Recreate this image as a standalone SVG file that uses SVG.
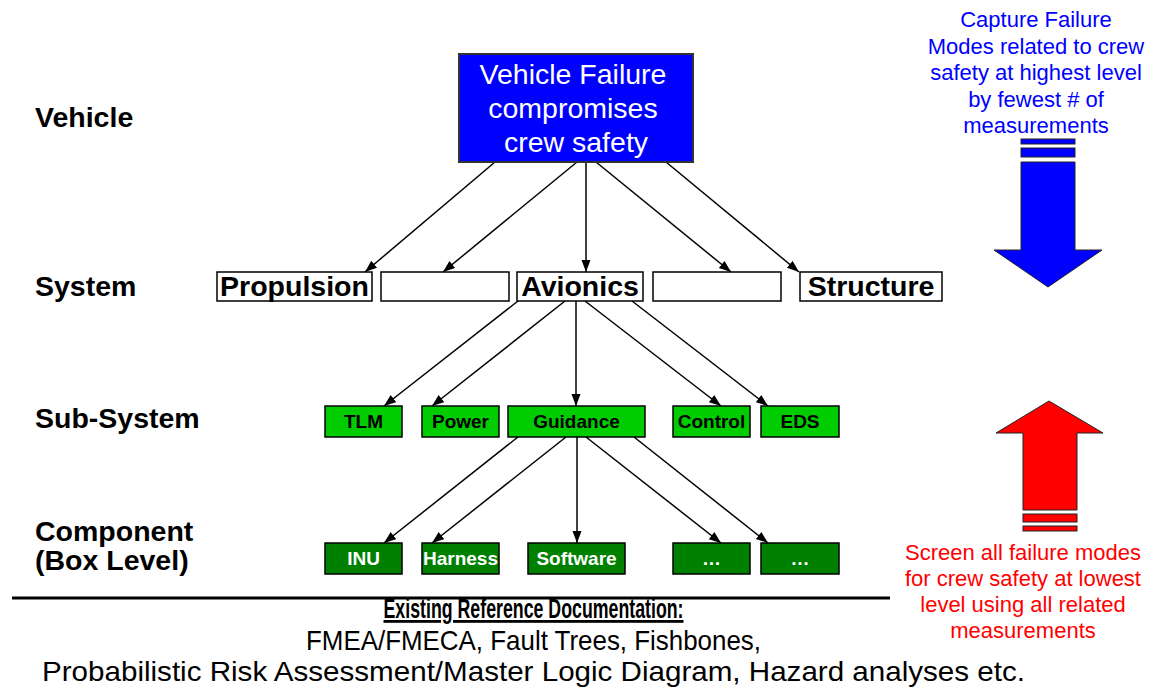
<svg xmlns="http://www.w3.org/2000/svg" width="1151" height="698" viewBox="0 0 1151 698">
  <style>
    .lvl { font-family: "Liberation Sans", Arial, sans-serif; font-weight: bold; font-size: 28.5px; fill: #000; }
    .sys rect { fill: #fff; stroke: #000; stroke-width: 1.5; }
    .sys text { font-family: "Liberation Sans", Arial, sans-serif; font-weight: bold; font-size: 28.5px; fill: #000; text-anchor: middle; }
    .sub rect { fill: #00cc00; stroke: #000; stroke-width: 1.5; }
    .sub text { font-family: "Liberation Sans", Arial, sans-serif; font-weight: bold; font-size: 19px; fill: #000; text-anchor: middle; }
    .cmp rect { fill: #008000; stroke: #000; stroke-width: 1.5; }
    .cmp text { font-family: "Liberation Sans", Arial, sans-serif; font-weight: bold; font-size: 19px; fill: #fff; text-anchor: middle; }
    .top rect { fill: #0000ff; stroke: #333; stroke-width: 2; }
    .top text { font-family: "Liberation Sans", Arial, sans-serif; font-size: 28.5px; fill: #fff; text-anchor: middle; }
    .conn line { stroke: #000; stroke-width: 1.5; marker-end: url(#head); }
    .note { font-family: "Liberation Sans", Arial, sans-serif; font-size: 22px; text-anchor: middle; }
    .doc { font-family: "Liberation Sans", Arial, sans-serif; font-size: 28px; fill: #000; text-anchor: middle; }
  </style>
  <defs>
    <marker id="head" markerUnits="userSpaceOnUse" markerWidth="13" markerHeight="10" refX="12" refY="4.5" orient="auto">
      <path d="M0,0 L12,4.5 L0,9 z" fill="#000"/>
    </marker>
  </defs>

  <rect width="1151" height="698" fill="#fff"/>

  <!-- level labels -->
  <g id="levels">
    <text class="lvl" x="35" y="127">Vehicle</text>
    <text class="lvl" x="35" y="296">System</text>
    <text class="lvl" x="35" y="428">Sub-System</text>
    <text class="lvl" x="35" y="541">Component</text>
    <text class="lvl" x="35" y="570">(Box Level)</text>
  </g>

  <!-- connectors -->
  <g id="connectors" class="conn">
    <line x1="495" y1="162" x2="365" y2="272"/>
    <line x1="577" y1="162" x2="443" y2="272"/>
    <line x1="586" y1="162" x2="586" y2="272"/>
    <line x1="596" y1="162" x2="731" y2="272"/>
    <line x1="666" y1="162" x2="799" y2="272"/>

    <line x1="518" y1="301" x2="384" y2="406"/>
    <line x1="565" y1="301" x2="432" y2="406"/>
    <line x1="576" y1="301" x2="576" y2="406"/>
    <line x1="585" y1="301" x2="721" y2="406"/>
    <line x1="632" y1="301" x2="768" y2="406"/>

    <line x1="518" y1="437" x2="384" y2="543"/>
    <line x1="566" y1="437" x2="432" y2="543"/>
    <line x1="577" y1="437" x2="577" y2="543"/>
    <line x1="586" y1="437" x2="721" y2="543"/>
    <line x1="634" y1="437" x2="768" y2="543"/>
  </g>

  <!-- vehicle level -->
  <g id="vehicle" class="top">
    <rect x="459" y="54" width="234" height="108"/>
    <text x="573" y="84">Vehicle Failure</text>
    <text x="573" y="118">compromises</text>
    <text x="576" y="152">crew safety</text>
  </g>

  <!-- system level -->
  <g id="propulsion" class="sys">
    <rect x="217" y="272" width="155" height="29"/>
    <text x="294.5" y="296">Propulsion</text>
  </g>
  <g id="system-blank-1" class="sys">
    <rect x="381" y="272" width="128" height="29"/>
  </g>
  <g id="avionics" class="sys">
    <rect x="517" y="272" width="126" height="29"/>
    <text x="580" y="296">Avionics</text>
  </g>
  <g id="system-blank-2" class="sys">
    <rect x="653" y="272" width="128" height="29"/>
  </g>
  <g id="structure" class="sys">
    <rect x="800" y="272" width="142" height="29"/>
    <text x="871" y="296">Structure</text>
  </g>

  <!-- sub-system level -->
  <g id="tlm" class="sub">
    <rect x="325" y="406" width="77" height="31"/>
    <text x="363.5" y="428">TLM</text>
  </g>
  <g id="power" class="sub">
    <rect x="422" y="406" width="77" height="31"/>
    <text x="460.5" y="428">Power</text>
  </g>
  <g id="guidance" class="sub">
    <rect x="508" y="406" width="137" height="31"/>
    <text x="576.5" y="428">Guidance</text>
  </g>
  <g id="control" class="sub">
    <rect x="673" y="406" width="77" height="31"/>
    <text x="711.5" y="428">Control</text>
  </g>
  <g id="eds" class="sub">
    <rect x="761" y="406" width="78" height="31"/>
    <text x="800" y="428">EDS</text>
  </g>

  <!-- component level -->
  <g id="inu" class="cmp">
    <rect x="325" y="543" width="77" height="31"/>
    <text x="363.5" y="565">INU</text>
  </g>
  <g id="harness" class="cmp">
    <rect x="422" y="543" width="77" height="31"/>
    <text x="460.5" y="565">Harness</text>
  </g>
  <g id="software" class="cmp">
    <rect x="528" y="543" width="97" height="31"/>
    <text x="576.5" y="565">Software</text>
  </g>
  <g id="component-more-1" class="cmp">
    <rect x="673" y="543" width="77" height="31"/>
    <text x="711.5" y="565">…</text>
  </g>
  <g id="component-more-2" class="cmp">
    <rect x="761" y="543" width="78" height="31"/>
    <text x="800" y="565">…</text>
  </g>

  <!-- top-down approach -->
  <g id="top-down">
    <text class="note" fill="#0000ff" x="1036" y="27">Capture Failure</text>
    <text class="note" fill="#0000ff" x="1036" y="53.5">Modes related to crew</text>
    <text class="note" fill="#0000ff" x="1036" y="80">safety at highest level</text>
    <text class="note" fill="#0000ff" x="1036" y="106.5">by fewest # of</text>
    <text class="note" fill="#0000ff" x="1036" y="133">measurements</text>
    <g fill="#0000ff" stroke="#222" stroke-width="1">
      <rect x="1021" y="139" width="54" height="5"/>
      <rect x="1021" y="148" width="54" height="9"/>
      <path d="M1021,162 H1075 V250 H1102 L1048,287 L994,250 H1021 Z"/>
    </g>
  </g>

  <!-- bottom-up approach -->
  <g id="bottom-up">
    <g fill="#ff0000" stroke="#222" stroke-width="1">
      <path d="M1049,401 L1103,433 H1077 V510 H1023 V433 H996 Z"/>
      <rect x="1023" y="514" width="54" height="8"/>
      <rect x="1023" y="526" width="54" height="5"/>
    </g>
    <text class="note" fill="#ff0000" x="1023" y="560">Screen all failure modes</text>
    <text class="note" fill="#ff0000" x="1023" y="586">for crew safety at lowest</text>
    <text class="note" fill="#ff0000" x="1023" y="612">level using all related</text>
    <text class="note" fill="#ff0000" x="1023" y="638">measurements</text>
  </g>

  <!-- reference documentation -->
  <g id="documentation">
    <line x1="12" y1="598" x2="890" y2="598" stroke="#000" stroke-width="3"/>
    <text class="doc" x="533.5" y="618" font-weight="bold" font-size="26" text-decoration="underline" textLength="300" lengthAdjust="spacingAndGlyphs">Existing Reference Documentation:</text>
    <text class="doc" x="533.5" y="650" textLength="455" lengthAdjust="spacingAndGlyphs">FMEA/FMECA, Fault Trees, Fishbones,</text>
    <text class="doc" x="533.5" y="681" textLength="983" lengthAdjust="spacingAndGlyphs">Probabilistic Risk Assessment/Master Logic Diagram, Hazard analyses etc.</text>
  </g>
</svg>
